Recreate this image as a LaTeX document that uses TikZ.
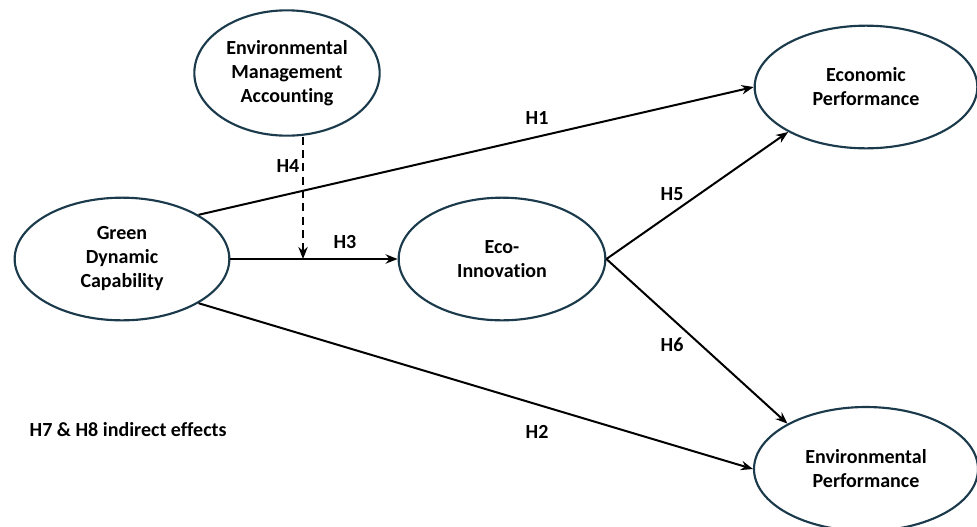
\documentclass[tikz,border=0pt]{standalone}
\usepackage{fontspec}
\setmainfont{Carlito}[Ligatures={TeX,NoCommon}]
\usepackage{tikz}
\usetikzlibrary{shapes.geometric,arrows.meta}
\definecolor{rim}{RGB}{27,58,75}
\tikzset{
  construct/.style={ellipse,draw=rim,line width=1.6pt,inner sep=0pt,align=center,
    font=\fontsize{15}{18}\selectfont\bfseries},
  path/.style={line width=1.5pt,-{Stealth[length=9pt,width=7pt]}},
  hyp/.style={font=\fontsize{15}{18}\selectfont\bfseries}
}

\begin{document}
\begin{tikzpicture}[x=0.75pt,y=-0.75pt]
                    \useasboundingbox (0,0) rectangle (977,526);
                    \node[construct,minimum width=139pt,minimum height=94pt] (ema) at (287,73) {Environmental\\Management\\Accounting};
                    \node[construct,minimum width=161pt,minimum height=92pt] (gdc) at (122,259) {Green\\Dynamic\\Capability};
                    \node[construct,minimum width=155pt,minimum height=92pt] (eco) at (502,259) {Eco-\\Innovation};
                    \node[construct,minimum width=167pt,minimum height=92pt] (econ) at (866,87) {Economic\\Performance};
                    \node[construct,minimum width=168pt,minimum height=93pt] (env) at (866,469) {Environmental\\Performance};
                    \coordinate (moderate) at (303,259);
                    \draw[path] (gdc.30) -- (econ.west);
                    \draw[path] (gdc.-30) -- (env.west);
                    \draw[path] (gdc.east) -- (eco.west);
                    \draw[path,dash pattern=on 6pt off 4pt] (ema.south -| moderate) -- (moderate);
                    \draw[path] (eco.east) -- (econ.210);
                    \draw[path] (eco.east) -- (env.150);
                    \node[hyp] (h1) at (537,118) {H1};
                    \node[hyp] (h2) at (537,432) {H2};
                    \node[hyp] (h3) at (345,242) {H3};
                    \node[hyp] (h4) at (288,166) {H4};
                    \node[hyp] (h5) at (672,194) {H5};
                    \node[hyp] (h6) at (672,345) {H6};
                    \node[hyp,anchor=west] (note) at (25,430) {H7 \& H8 indirect effects};
                \end{tikzpicture}
\end{document}
